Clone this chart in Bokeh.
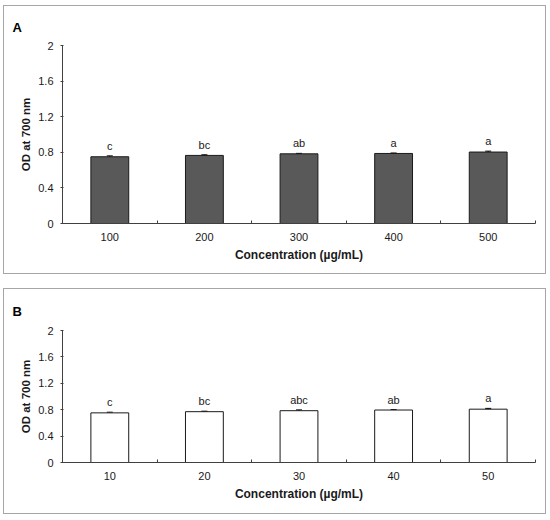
from bokeh.plotting import figure
from bokeh.models import ColumnDataSource, Whisker, LabelSet, FixedTicker, Range1d, TeeHead
from bokeh.layouts import column
from bokeh.core.properties import value
from bokeh.embed import file_html
from bokeh.resources import INLINE

# ---- data ----
conc_a = ["100", "200", "300", "400", "500"]
od_a = [0.750, 0.765, 0.783, 0.787, 0.803]
err_a = [0.010, 0.007, 0.005, 0.005, 0.010]
sig_a = ["c", "bc", "ab", "a", "a"]

conc_b = ["10", "20", "30", "40", "50"]
od_b = [0.752, 0.770, 0.785, 0.795, 0.808]
err_b = [0.010, 0.007, 0.012, 0.006, 0.012]
sig_b = ["c", "bc", "abc", "ab", "a"]

y_ticks = [0, 0.4, 0.8, 1.2, 1.6, 2.0]
y_tick_labels = ["0", "0.4", "0.8", "1.2", "1.6", "2"]

FONT = "Liberation Sans"


def panel(letter, cats, vals, errs, sigs, fill, height, mb_top, mb_bottom, title_standoff):
    n = len(cats)
    xs = [i + 0.5 for i in range(n)]
    src = ColumnDataSource(dict(
        x=xs, top=vals, upper=[v + e for v, e in zip(vals, errs)],
        lower=[v - e for v, e in zip(vals, errs)], sig=sigs))
    p = figure(width=543, height=height, output_backend="svg", toolbar_location=None,
               x_range=Range1d(0, n), y_range=Range1d(0, 2),
               min_border_left=58, min_border_right=12,
               min_border_top=mb_top, min_border_bottom=mb_bottom,
               styles={"border": "1px solid #a6a6a6"})
    p.outline_line_color = None
    p.grid.visible = False
    p.title.text = letter
    p.title.align = "left"
    p.title.offset = -50
    p.title.standoff = title_standoff
    p.title.text_font = FONT
    p.title.text_font_style = "bold"
    p.title.text_font_size = "13px"
    p.title.text_color = "black"
    p.vbar(x="x", top="top", width=0.4, bottom=0, source=src,
           fill_color=fill, line_color="#1a1a1a", line_width=1)
    p.add_layout(Whisker(source=src, base="x", upper="upper", lower="lower",
                         line_color="black", line_width=1,
                         upper_head=TeeHead(size=6, line_color="black", line_width=1),
                         lower_head=TeeHead(size=6, line_color="black", line_width=1)))
    p.add_layout(LabelSet(x="x", y="upper", text="sig", source=src,
                          text_align="center", text_baseline="alphabetic",
                          y_offset=6, text_font=value(FONT), text_font_size=value("11px"),
                          text_color="#1a1a1a"))
    # x axis
    xa = p.xaxis[0]
    xa.ticker = FixedTicker(ticks=xs, minor_ticks=list(range(n + 1)))
    xa.major_label_overrides = {x: c for x, c in zip(xs, cats)}
    xa.major_tick_in = 0
    xa.major_tick_out = 0
    xa.minor_tick_in = 3
    xa.minor_tick_out = 0
    xa.minor_tick_line_color = "#404040"
    xa.axis_line_color = "#404040"
    xa.major_label_standoff = 9
    xa.major_label_text_font = FONT
    xa.major_label_text_font_size = "11px"
    xa.major_label_text_color = "#1a1a1a"
    xa.axis_label = "Concentration (\u00b5g/mL)"
    xa.axis_label_text_font = FONT
    xa.axis_label_text_font_style = "bold"
    xa.axis_label_text_font_size = "12px"
    xa.axis_label_text_color = "#1a1a1a"
    xa.axis_label_standoff = 4
    # y axis
    ya = p.yaxis[0]
    ya.ticker = FixedTicker(ticks=y_ticks, minor_ticks=[])
    ya.major_label_overrides = {t: l for t, l in zip(y_ticks, y_tick_labels)}
    ya.major_tick_in = 1
    ya.major_tick_out = 2
    ya.major_tick_line_color = "#404040"
    ya.axis_line_color = "#404040"
    ya.major_label_standoff = 7
    ya.major_label_text_font = FONT
    ya.major_label_text_font_size = "11px"
    ya.major_label_text_color = "#1a1a1a"
    ya.axis_label = "OD at 700 nm"
    ya.axis_label_text_font = FONT
    ya.axis_label_text_font_style = "bold"
    ya.axis_label_text_font_size = "11.5px"
    ya.axis_label_text_color = "#1a1a1a"
    ya.axis_label_standoff = 3
    return p


pa = panel("A", conc_a, od_a, err_a, sig_a, "#595959", 269, 39, 52, 22)
pb = panel("B", conc_b, od_b, err_b, sig_b, "white", 226, 40, 53, 24)

layout = column(pa, pb, spacing=14,
                styles={"margin-left": "3px", "margin-top": "5px"})

open("out.html", "w").write(file_html(layout, INLINE))
